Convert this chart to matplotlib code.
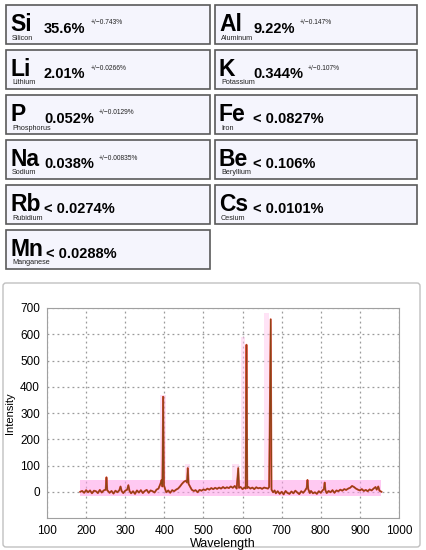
import matplotlib
matplotlib.use("Agg")
import matplotlib.pyplot as plt
from matplotlib.patches import Rectangle, FancyBboxPatch

plt.rcParams['font.family'] = ['Liberation Sans', 'DejaVu Sans']

# element results
symbols = ["Si", "Li", "P", "Na", "Rb", "Mn", "Al", "K", "Fe", "Be", "Cs"]
names = ["Silicon", "Lithium", "Phosphorus", "Sodium", "Rubidium", "Manganese",
         "Aluminum", "Potassium", "Iron", "Beryllium", "Cesium"]
amounts = ["35.6%", "2.01%", "0.052%", "0.038%", "< 0.0274%", "< 0.0288%",
           "9.22%", "0.344%", "< 0.0827%", "< 0.106%", "< 0.0101%"]
errors = ["+/\u22120.743%", "+/\u22120.0266%", "+/\u22120.0129%", "+/\u22120.00835%", None, None,
          "+/\u22120.147%", "+/\u22120.107%", None, None, None]

# spectrum
wavelength = [185, 190, 195, 200, 205, 210, 215, 220, 225, 230, 235, 240, 245, 250, 252, 254,
              260, 265, 270, 275, 280, 285, 288, 291, 295, 300, 305, 308, 311, 315, 320, 325,
              330, 335, 340, 345, 350, 355, 360, 365, 370, 375, 380, 385, 390, 393, 395, 397,
              399, 402, 405, 410, 415, 420, 425, 430, 435, 440, 445, 450, 455, 458, 460, 462,
              465, 470, 475, 480, 485, 490, 495, 500, 505, 510, 515, 520, 525, 530, 535, 540,
              545, 550, 555, 560, 565, 570, 575, 580, 585, 589, 591, 595, 600, 605, 608, 610,
              612, 615, 620, 625, 630, 635, 640, 645, 650, 655, 660, 665, 668, 672, 674, 678,
              682, 685, 690, 695, 700, 705, 710, 715, 720, 725, 730, 735, 740, 745, 750, 755,
              760, 764, 766, 768, 772, 775, 780, 785, 790, 795, 800, 805, 808, 810, 812, 815,
              820, 825, 830, 835, 840, 845, 850, 855, 860, 865, 870, 875, 880, 885, 890, 895,
              900, 905, 910, 915, 920, 925, 930, 935, 940, 943, 947, 950, 955]
intensity = [0, 3, -4, 6, -2, 5, -6, 4, 2, -5, 7, -3, 5, 8, 55, 6,
             -4, 3, -7, 4, -2, 6, 20, 2, -5, 4, 8, 25, 3, -6, 2, -8,
             5, -3, 6, -5, 3, 7, -4, 5, 2, -3, 8, 12, 30, 45, 20, 362,
             25, 10, -2, 5, -4, 6, 2, 8, 12, 20, 30, 38, 42, 35, 90, 30,
             22, 8, 3, 6, -2, 7, 4, 9, 6, 12, 8, 14, 10, 15, 11, 16,
             12, 18, 13, 17, 14, 20, 15, 22, 12, 90, 15, 18, 10, 16, 12, 560,
             14, 18, 12, 16, 10, 17, 13, 15, 11, 16, 14, 12, 18, 657, 8, -2,
             5, -6, 2, -8, 0, -10, 3, -5, -8, 1, -6, 4, -3, -9, 2, -4,
             5, 15, 45, 10, -5, 3, -6, -2, -8, 2, -4, 6, 10, 35, 5, -5,
             3, -2, 6, -4, 5, 2, 8, 4, 10, 7, 12, 15, 22, 18, 12, 8,
             5, 10, 3, 7, 2, 9, 5, 12, 18, 8, 20, 4, 0]

# highlighted regions
band_lo = [390, 452, 573, 596, 654]
band_hi = [403, 466, 590, 606, 668]
band_top = [368, 105, 105, 590, 682]
base_band = [185, 955, -15, 45]

fig = plt.figure(figsize=(4.26, 5.5), dpi=100)

# pixel-coordinate overlay for the element boxes
over = fig.add_axes([0, 0, 1, 1])
over.set_xlim(0, 426)
over.set_ylim(550, 0)
over.axis('off')

col_x = [6, 215]
box_w = [204, 202]
box_h = 39
fig.canvas.draw()
renderer = fig.canvas.get_renderer()

for i, sym in enumerate(symbols):
    col = 0 if i < 6 else 1
    row = i if i < 6 else i - 6
    x0 = col_x[col]
    y0 = 5 + 45 * row
    over.add_patch(Rectangle((x0, y0), box_w[col], box_h, facecolor='#f5f5fd',
                             edgecolor='#5a5a5a', lw=1.2))
    ts = over.text(x0 + 4, y0 + 26, sym, fontsize=16.5, fontweight='bold',
                   va='baseline', ha='left', color='black')
    over.text(x0 + 6, y0 + 34.5, names[i], fontsize=5.2, va='baseline', ha='left',
              color='#222222')
    bb = ts.get_window_extent(renderer)
    vx = max(x0 + 38, bb.x1 + 3)
    tv = over.text(vx, y0 + 28, amounts[i], fontsize=10.5, fontweight='bold',
                   va='baseline', ha='left', color='black')
    if errors[i] is not None:
        bv = tv.get_window_extent(renderer)
        over.text(bv.x1 + 5, y0 + 18, errors[i], fontsize=4.8, va='center',
                  ha='left', color='#222222')

# chart frame
over.add_patch(FancyBboxPatch((3, 283), 417, 264, boxstyle='round,pad=0,rounding_size=3',
                              facecolor='white', edgecolor='#c0c0c0', lw=1.0, zorder=0))

ax = fig.add_axes([47 / 426, 32 / 550, 352 / 426, 210 / 550])
ax.set_xlim(100, 1000)
ax.set_ylim(-100, 700)
ax.set_xticks([100, 200, 300, 400, 500, 600, 700, 800, 900, 1000])
ax.set_yticks([0, 100, 200, 300, 400, 500, 600, 700])
ax.tick_params(length=0, labelsize=8.5, pad=5)
ax.grid(True, color='#9a9a9a', linestyle=(0, (1.5, 2.5)), lw=0.9)
for s in ax.spines.values():
    s.set_color('#a0a0a0')
    s.set_linewidth(0.8)

ax.add_patch(Rectangle((base_band[0], base_band[2]), base_band[1] - base_band[0],
                       base_band[3] - base_band[2], facecolor='#ff9de8', alpha=0.55,
                       lw=0, zorder=2))
for lo, hi, top in zip(band_lo, band_hi, band_top):
    ax.add_patch(Rectangle((lo, base_band[3]), hi - lo, top - base_band[3],
                           facecolor='#ffc8ee', alpha=0.5, lw=0, zorder=2))

ax.plot(wavelength, intensity, color='#e8281c', lw=1.4, alpha=0.8, zorder=3)
ax.plot(wavelength, intensity, color='#8c4416', lw=0.9, zorder=4)

ax.set_xlabel('Wavelength', fontsize=9, labelpad=1)
ax.set_ylabel('Intensity', fontsize=8, labelpad=4)

fig.savefig('out.png', dpi=100)
